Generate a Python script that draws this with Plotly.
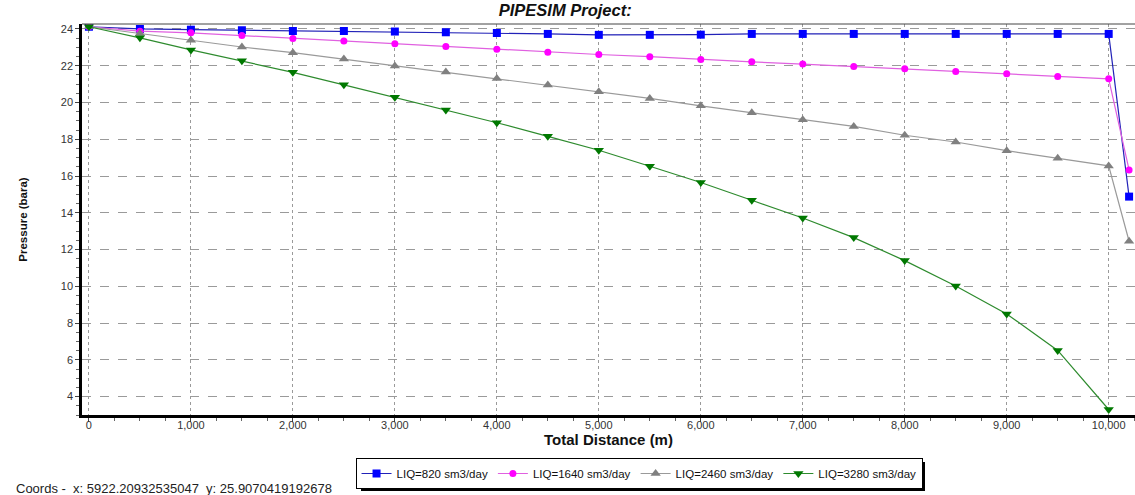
import plotly.graph_objects as go

distance = [0, 500, 1000, 1500, 2000, 2500, 3000, 3500, 4000, 4500, 5000,
            5500, 6000, 6500, 7000, 7500, 8000, 8500, 9000, 9500, 10000, 10200]
distance_green = distance[:21]

liq_820 = [24.12, 24.0, 23.96, 23.93, 23.89, 23.89, 23.86, 23.82, 23.78, 23.73, 23.68,
           23.68, 23.69, 23.73, 23.73, 23.73, 23.73, 23.73, 23.73, 23.73, 23.73, 14.88]
liq_1640 = [24.12, 23.88, 23.79, 23.64, 23.48, 23.34, 23.2, 23.05, 22.9, 22.74, 22.61,
            22.49, 22.34, 22.21, 22.09, 21.96, 21.83, 21.69, 21.56, 21.42, 21.29, 16.33]
liq_2460 = [24.12, 23.75, 23.39, 23.02, 22.71, 22.36, 21.99, 21.66, 21.3, 20.95, 20.58,
            20.22, 19.82, 19.44, 19.06, 18.7, 18.22, 17.85, 17.38, 16.97, 16.55, 12.45]
liq_3280 = [24.12, 23.52, 22.86, 22.27, 21.64, 20.96, 20.28, 19.59, 18.9, 18.16, 17.4,
            16.53, 15.65, 14.68, 13.72, 12.65, 11.4, 10.02, 8.5, 6.51, 3.3]

names = ["LIQ=820 sm3/day", "LIQ=1640 sm3/day", "LIQ=2460 sm3/day", "LIQ=3280 sm3/day"]
x_ticks = [0, 1000, 2000, 3000, 4000, 5000, 6000, 7000, 8000, 9000, 10000]
y_ticks = [4, 6, 8, 10, 12, 14, 16, 18, 20, 22, 24]

FONT = "Liberation Sans, Arial, sans-serif"

fig = go.Figure()
series = [
    (distance, liq_820, names[0], "#2222b8", "#0000ff", "square", 8),
    (distance, liq_1640, names[1], "#e060e0", "#ff00ff", "circle", 7),
    (distance, liq_2460, names[2], "#9a9a9a", "#808080", "triangle-up", 9),
    (distance_green, liq_3280, names[3], "#2e8b2e", "#007800", "triangle-down", 9),
]
for xs, ys, nm, lc, mc, sym, sz in series:
    fig.add_trace(go.Scatter(
        x=xs, y=ys, name=nm, mode="lines+markers",
        line=dict(color=lc, width=1.2),
        marker=dict(symbol=sym, size=sz, color=mc, line=dict(width=0)),
    ))

fig.update_layout(
    width=1135, height=495,
    margin=dict(l=82, r=0, t=24, b=80),
    paper_bgcolor="white", plot_bgcolor="white",
    font=dict(family=FONT, size=11, color="#222"),
    title=dict(text="<b><i>PIPESIM Project:</i></b>", x=0.498, xanchor="center",
               y=1 - 10 / 495, yanchor="middle",
               font=dict(family=FONT, size=16.5, color="#111")),
    showlegend=True,
    legend=dict(orientation="h", x=0.529, xanchor="center", y=-0.11, yanchor="top",
                bgcolor="white", bordercolor="black", borderwidth=1,
                font=dict(family=FONT, size=11.5, color="#111"),
                itemwidth=30, tracegroupgap=0),
)

fig.update_xaxes(
    range=[-68, 10258],
    tickmode="array", tickvals=x_ticks, tickformat=",d",
    showline=True, linewidth=2.5, linecolor="black",
    ticks="outside", ticklen=4, tickcolor="#444", tickwidth=1,
    ticklabelstandoff=-6,
    minor=dict(dtick=250, tick0=0, ticks="outside", ticklen=3, tickcolor="#666", showgrid=False),
    showgrid=True, gridcolor="#9a9a9a", griddash="dot", gridwidth=1,
    zeroline=False,
    tickfont=dict(family=FONT, size=11, color="#333"),
    title=dict(text="<b>Total Distance (m)</b>", standoff=0,
               font=dict(family=FONT, size=15, color="#111")),
)
fig.update_yaxes(
    range=[3.0, 24.27],
    tickmode="array", tickvals=y_ticks,
    showline=True, linewidth=2.5, linecolor="black",
    ticks="outside", ticklen=4, tickcolor="#444", tickwidth=1,
    minor=dict(dtick=0.5, tick0=0, ticks="outside", ticklen=3, tickcolor="#666", showgrid=False),
    showgrid=True, gridcolor="#9a9a9a", griddash="dash", gridwidth=1,
    zeroline=False,
    tickfont=dict(family=FONT, size=11, color="#333"),
    title=dict(text="<b>Pressure (bara)</b>", standoff=31,
               font=dict(family=FONT, size=11.5, color="#111")),
)

# thin top border of plot area
fig.add_shape(type="line", xref="paper", yref="paper", x0=0, x1=1, y0=1, y1=1,
              line=dict(color="#444", width=1))

# drop shadow strips along the legend's right and bottom edges
def px_x(p):
    return (p - 82) / 1053


def px_y(p):
    return (415 - p) / 391


fig.add_shape(type="rect", xref="paper", yref="paper", layer="above",
              x0=px_x(922), x1=px_x(925), y0=px_y(491), y1=px_y(462),
              fillcolor="black", line=dict(width=0))
fig.add_shape(type="rect", xref="paper", yref="paper", layer="above",
              x0=px_x(361), x1=px_x(925), y0=px_y(491), y1=px_y(488),
              fillcolor="black", line=dict(width=0))

fig.add_annotation(text="Coords -  x: 5922.20932535047  y: 25.9070419192678",
                   xref="paper", yref="paper", x=(14 - 82) / 1053, xanchor="left",
                   y=(415 - 489) / 391, yanchor="middle", showarrow=False,
                   font=dict(family=FONT, size=13, color="#222"))

fig.write_html("out.html")
